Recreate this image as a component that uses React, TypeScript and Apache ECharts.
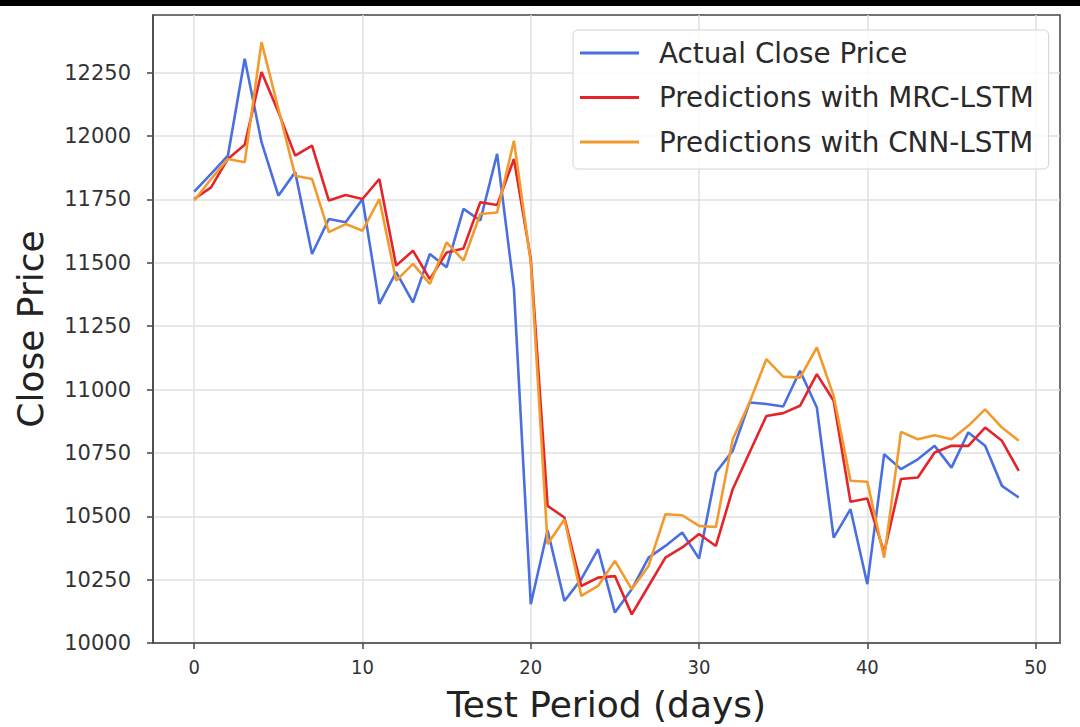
import React, { useEffect, useRef } from "react";
import * as echarts from "echarts";

const days: number[] = Array.from({ length: 50 }, (_, i) => i);

const actualClose: number[] = [
  11781, 11851, 11923, 12305, 11976, 11765, 11858, 11535, 11673, 11660,
  11752, 11338, 11463, 11344, 11535, 11483, 11713, 11667, 11930, 11397,
  10153, 10445, 10166, 10252, 10370, 10120, 10212, 10337, 10383, 10436,
  10333, 10673, 10758, 10949, 10943, 10933, 11074, 10929, 10416, 10528,
  10232, 10745, 10686, 10725, 10778, 10692, 10831, 10778, 10620, 10574,
];

const mrcLstm: number[] = [
  11752, 11798, 11910, 11966, 12253, 12095, 11923, 11963, 11746, 11768,
  11752, 11831, 11489, 11548, 11436, 11541, 11557, 11739, 11728, 11910,
  11515, 10541, 10495, 10225, 10258, 10264, 10113, 10225, 10337, 10377,
  10430, 10383, 10607, 10752, 10896, 10907, 10936, 11061, 10956, 10557,
  10570, 10357, 10647, 10653, 10752, 10778, 10778, 10850, 10798, 10679,
];

const cnnLstm: number[] = [
  11746, 11831, 11910, 11897, 12371, 12108, 11844, 11831, 11621, 11653,
  11627, 11752, 11430, 11496, 11417, 11581, 11509, 11693, 11699, 11982,
  11502, 10390, 10488, 10186, 10225, 10324, 10212, 10304, 10508, 10504,
  10462, 10458, 10804, 10949, 11120, 11051, 11047, 11166, 10975, 10640,
  10636, 10337, 10833, 10804, 10820, 10804, 10857, 10922, 10850, 10798,
];

const xTicks: number[] = [0, 10, 20, 30, 40, 50];
const yTicks: number[] = [10000, 10250, 10500, 10750, 11000, 11250, 11500, 11750, 12000, 12250];

const seriesNames: string[] = [
  "Actual Close Price",
  "Predictions with MRC-LSTM",
  "Predictions with CNN-LSTM",
];

const FONT = "DejaVu Sans, Liberation Sans, sans-serif";

export default function App() {
  const ref = useRef<HTMLDivElement>(null);

  useEffect(() => {
    if (!ref.current) return;
    const chart = echarts.init(ref.current, undefined, { renderer: "svg" });

    const mk = (name: string, values: number[], color: string) => ({
      name,
      type: "line",
      data: days.map((d, i) => [d, values[i]]),
      showSymbol: false,
      symbol: "none",
      lineStyle: { color, width: 2.6 },
      itemStyle: { color },
      z: 3,
    });

    chart.setOption({
      animation: false,
      backgroundColor: "#ffffff",
      textStyle: { fontFamily: FONT },
      grid: {
        left: 153,
        right: 20,
        top: 15,
        bottom: 81,
        show: true,
        borderColor: "#444",
        borderWidth: 1.5,
        backgroundColor: "transparent",
      },
      legend: {
        orient: "vertical",
        left: 573,
        top: 30,
        padding: [8, 15, 12, 7],
        itemGap: 14.5,
        itemWidth: 59,
        itemHeight: 3,
        icon: "rect",
        backgroundColor: "rgba(255,255,255,0.8)",
        borderColor: "#d4d4d4",
        borderWidth: 1,
        borderRadius: 5,
        data: seriesNames,
        textStyle: {
          fontFamily: FONT,
          fontSize: 27.8,
          color: "#2a2a2a",
          lineHeight: 30,
          padding: [0, 0, 0, 15],
        },
      },
      xAxis: {
        type: "value",
        min: -2.45,
        max: 51.45,
        name: "Test Period (days)",
        nameLocation: "middle",
        nameGap: 43,
        nameTextStyle: { fontFamily: FONT, fontSize: 36, color: "#222" },
        axisLine: { show: true, onZero: false, lineStyle: { color: "#444", width: 1.5 } },
        axisTick: {
          show: true,
          length: 6,
          lineStyle: { color: "#444", width: 1.5 },
          customValues: xTicks,
        },
        axisLabel: {
          customValues: xTicks,
          margin: 14,
          fontSize: 20,
          color: "#333",
          fontFamily: "DejaVu Sans Condensed, DejaVu Sans, sans-serif",
          formatter: (v: number) => String(v),
        },
        splitLine: { show: true, lineStyle: { color: "#e0e0e0", width: 1.5 } },
      },
      yAxis: {
        type: "value",
        min: 10000,
        max: 12478,
        interval: 250,
        name: "Close Price",
        nameLocation: "middle",
        nameGap: 105,
        nameTextStyle: { fontFamily: FONT, fontSize: 36, color: "#222" },
        axisLine: { show: true, onZero: false, lineStyle: { color: "#444", width: 1.5 } },
        axisTick: {
          show: true,
          length: 6,
          lineStyle: { color: "#444", width: 1.5 },
          customValues: yTicks,
        },
        axisLabel: {
          customValues: yTicks,
          margin: 22,
          fontSize: 21,
          color: "#333",
          fontFamily: FONT,
          formatter: (v: number) => String(v),
        },
        splitLine: { show: true, lineStyle: { color: "#e0e0e0", width: 1.5 } },
      },
      graphic: [
        {
          type: "rect",
          left: 0,
          top: 0,
          shape: { width: 1080, height: 6 },
          style: { fill: "#000" },
          z: 100,
        },
      ],
      series: [
        mk(seriesNames[0], actualClose, "#4a6fe0"),
        mk(seriesNames[1], mrcLstm, "#e4242a"),
        mk(seriesNames[2], cnnLstm, "#f39a2e"),
      ],
    });

    return () => chart.dispose();
  }, []);

  return (
    <div
      ref={ref}
      style={{ position: "absolute", left: 0, top: 0, width: 1080, height: 727, background: "#fff" }}
    />
  );
}
